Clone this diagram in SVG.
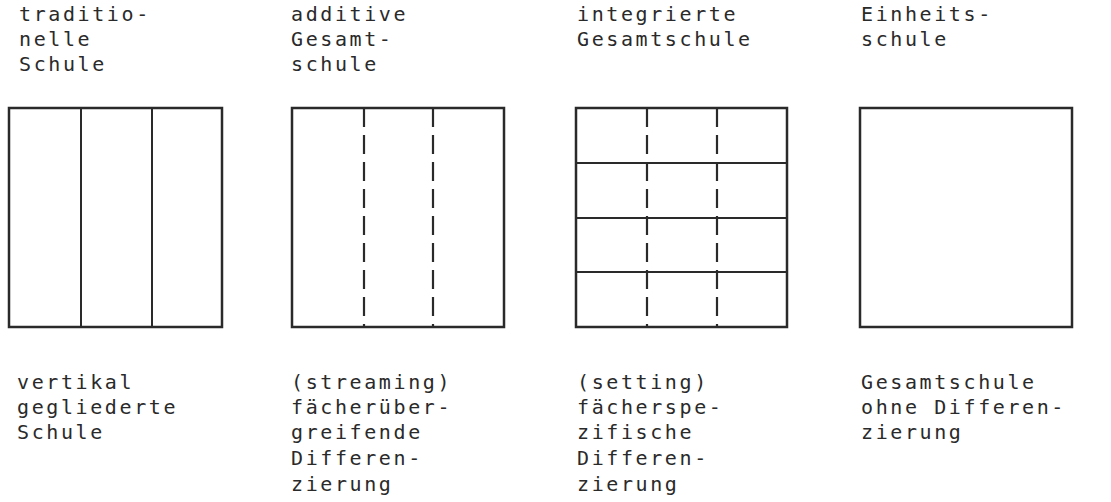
<svg xmlns="http://www.w3.org/2000/svg" width="1111" height="502" viewBox="0 0 1111 502">
<style>
text{font-family:"DejaVu Sans Mono","Liberation Mono",monospace;font-size:20px;letter-spacing:2.6px;fill:#2a2a2a}
.box{fill:none;stroke:#2a2a2a;stroke-width:2.5}
.solid{stroke:#2a2a2a;stroke-width:2}
.dash{stroke:#2a2a2a;stroke-width:2.2;stroke-dasharray:19 8}
</style>
<rect width="1111" height="502" fill="#fff"/>
<g id="traditionelle">
<text x="19" y="21">traditio-</text>
<text x="19" y="46">nelle</text>
<text x="19" y="71">Schule</text>
<rect class="box" x="9" y="108" width="213" height="219"/>
<line class="solid" x1="81" y1="108" x2="81" y2="327"/>
<line class="solid" x1="152" y1="108" x2="152" y2="327"/>
<text x="17" y="389">vertikal</text>
<text x="17" y="414">gegliederte</text>
<text x="17" y="439">Schule</text>
</g>
<g id="additive">
<text x="291" y="21">additive</text>
<text x="291" y="46">Gesamt-</text>
<text x="291" y="71">schule</text>
<rect class="box" x="292" y="108" width="212" height="219"/>
<line class="dash" x1="364" y1="108" x2="364" y2="327"/>
<line class="dash" x1="433" y1="108" x2="433" y2="327"/>
<text x="291" y="389">(streaming)</text>
<text x="291" y="414">fächerüber-</text>
<text x="291" y="439">greifende</text>
<text x="291" y="465">Differen-</text>
<text x="291" y="491">zierung</text>
</g>
<g id="integrierte">
<text x="577" y="21">integrierte</text>
<text x="577" y="46">Gesamtschule</text>
<rect class="box" x="576" y="108" width="211" height="219"/>
<line class="dash" x1="647" y1="108" x2="647" y2="327"/>
<line class="dash" x1="717" y1="108" x2="717" y2="327"/>
<line class="solid" x1="576" y1="163" x2="787" y2="163"/>
<line class="solid" x1="576" y1="218" x2="787" y2="218"/>
<line class="solid" x1="576" y1="272" x2="787" y2="272"/>
<text x="577" y="389">(setting)</text>
<text x="577" y="414">fächerspe-</text>
<text x="577" y="439">zifische</text>
<text x="577" y="465">Differen-</text>
<text x="577" y="491">zierung</text>
</g>
<g id="einheitsschule">
<text x="861" y="21">Einheits-</text>
<text x="861" y="46">schule</text>
<rect class="box" x="860" y="108" width="212" height="219"/>
<text x="861" y="389">Gesamtschule</text>
<text x="861" y="414">ohne Differen-</text>
<text x="861" y="439">zierung</text>
</g>
<g id="connectors"/>
</svg>
